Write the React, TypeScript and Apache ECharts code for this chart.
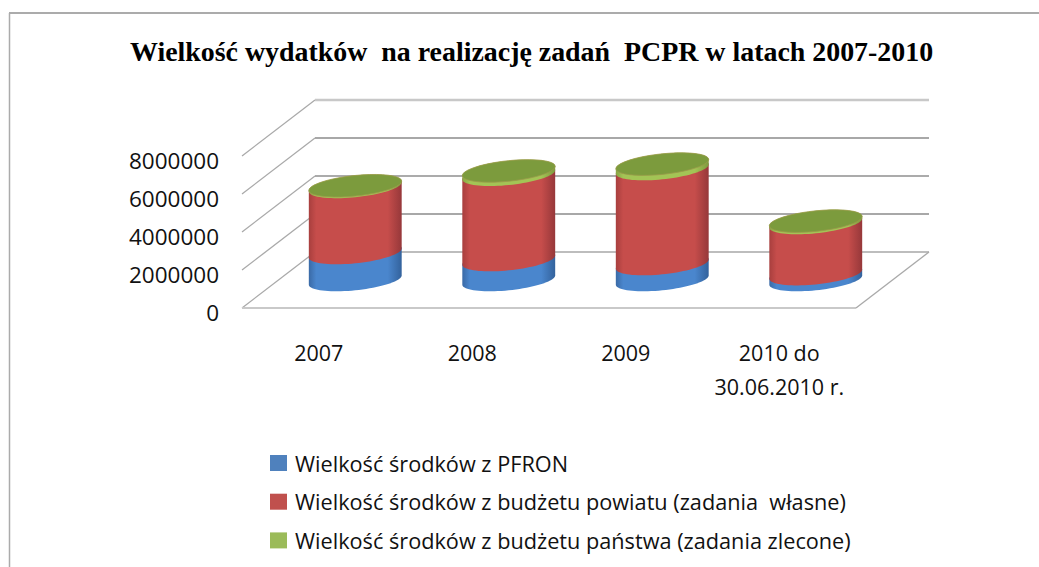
import React, { useEffect, useRef } from "react";
import * as echarts from "echarts";

const titleText = "Wielkość wydatków  na realizację zadań  PCPR w latach 2007-2010";
const categories = ["2007", "2008", "2009", "2010 do\n30.06.2010 r."];
const seriesNames = [
  "Wielkość środków z PFRON",
  "Wielkość środków z budżetu powiatu (zadania  własne)",
  "Wielkość środków z budżetu państwa (zadania zlecone)",
];
const pfron = [1420000, 1050000, 840000, 310000];
const powiat = [3480000, 4490000, 5000000, 2690000];
const panstwo = [60000, 200000, 260000, 100000];
const yTicks = [0, 2000000, 4000000, 6000000, 8000000];
const allValues = [pfron, powiat, panstwo];

const legendColors = ["#4F81BD", "#C0504D", "#9BBB59"];
const sideStops = [
  ["#3a6aa6", "#4a86cd", "#33629c"],
  ["#a83f3e", "#c64d4b", "#96383a"],
  ["#86a544", "#a3c455", "#7d9a3e"],
];
const capColor = "#7c9b3d";
const backLineColors = ["#bdbdbd", "#a8a8a8", "#8f8f8f", "#a8a8a8", "#c8c8c8"];
const backLineWidths = [2, 1.8, 1.5, 1.8, 2.4];

// 3D look: floor depth on screen, and the sheared ellipse of a cylinder's section
const DEPTH_X = 73;
const DEPTH_Y = -56;
const BAR_RATIO = 0.605;
const SHEAR = 0.1;
const MINOR = 10.3;

function arc(cx: number, cy: number, a: number, t0: number, t1: number) {
  const pts: number[][] = [];
  const n = 40;
  for (let i = 0; i <= n; i++) {
    const t = t0 + ((t1 - t0) * i) / n;
    const x = a * Math.cos(t);
    pts.push([cx + x, cy - SHEAR * x + MINOR * Math.sin(t)]);
  }
  return pts;
}

function stacked(index: number) {
  return categories.map((_, i) => {
    let start = 0;
    for (let s = 0; s < index; s++) start += allValues[s][i];
    return [i, start, start + allValues[index][i]];
  });
}

function cylinderSeries(index: number) {
  const isTop = index === allValues.length - 1;
  return {
    type: "custom",
    name: seriesNames[index],
    itemStyle: { color: legendColors[index] },
    encode: { x: 0, y: [1, 2] },
    data: stacked(index),
    z: 3 + index,
    renderItem: (_: any, api: any) => {
      const band = api.size([1, 0])[0];
      const a = (band * BAR_RATIO) / 2;
      const low = api.coord([api.value(0), api.value(1)]);
      const high = api.coord([api.value(0), api.value(2)]);
      const cx = low[0] + DEPTH_X / 2;
      const yLow = low[1] + DEPTH_Y / 2;
      const yHigh = high[1] + DEPTH_Y / 2;
      const stops = sideStops[index];
      const side = arc(cx, yLow, a, 0, Math.PI).concat(arc(cx, yHigh, a, Math.PI, 2 * Math.PI));
      const children: any[] = [
        {
          type: "polygon",
          shape: { points: side },
          style: {
            fill: new echarts.graphic.LinearGradient(0, 0, 1, 0, [
              { offset: 0, color: stops[0] },
              { offset: 0.08, color: stops[1] },
              { offset: 0.85, color: stops[1] },
              { offset: 1, color: stops[2] },
            ]),
          },
        },
      ];
      if (isTop) {
        children.push({
          type: "polygon",
          shape: { points: arc(cx, yHigh, a, 0, 2 * Math.PI) },
          style: { fill: capColor, stroke: "#9a9a4a", lineWidth: 0.8 },
        });
      }
      return { type: "group", children };
    },
  };
}

const wallSeries = {
  type: "custom",
  silent: true,
  z: 1,
  encode: { y: 0 },
  data: yTicks.map((v) => [v]),
  renderItem: (params: any, api: any) => {
    const band = api.size([1, 0])[0];
    const p = api.coord([0, api.value(0)]);
    const x0 = p[0] - band / 2;
    const x1 = x0 + band * categories.length;
    const y = p[1];
    const i = params.dataIndex;
    const children: any[] = [
      {
        type: "line",
        shape: { x1: x0, y1: y, x2: x0 + DEPTH_X, y2: y + DEPTH_Y },
        style: { stroke: "#a9a9a9", lineWidth: 1.3 },
      },
      {
        type: "line",
        shape: { x1: x0 + DEPTH_X, y1: y + DEPTH_Y, x2: x1 + DEPTH_X, y2: y + DEPTH_Y },
        style: { stroke: backLineColors[i], lineWidth: backLineWidths[i] },
      },
    ];
    if (i === 0) {
      children.push(
        {
          type: "line",
          shape: { x1: x0, y1: y, x2: x1, y2: y },
          style: { stroke: "#c9c9c9", lineWidth: 2 },
        },
        {
          type: "line",
          shape: { x1: x1, y1: y, x2: x1 + DEPTH_X, y2: y + DEPTH_Y },
          style: { stroke: "#a9a9a9", lineWidth: 1.3 },
        },
      );
    }
    return { type: "group", children };
  },
};

export default function App() {
  const ref = useRef<HTMLDivElement>(null);
  useEffect(() => {
    const chart = echarts.init(ref.current!, null, { renderer: "svg" });
    chart.setOption({
      animation: false,
      backgroundColor: "#ffffff",
      title: {
        text: titleText,
        left: 130,
        top: 37,
        padding: 0,
        textStyle: {
          fontFamily: "Liberation Serif",
          fontWeight: "bold",
          fontSize: 27.9,
          color: "#000000",
        },
      },
      grid: { left: 242, right: 183, top: 156, bottom: 259 },
      xAxis: {
        type: "category",
        data: categories,
        axisLine: { show: false },
        axisTick: { show: false },
        splitLine: { show: false },
        axisLabel: {
          margin: 27,
          color: "#111111",
          fontFamily: "Open Sans",
          fontSize: 21.5,
          lineHeight: 34,
          interval: 0,
        },
      },
      yAxis: {
        type: "value",
        min: 0,
        max: 8000000,
        interval: 2000000,
        axisLine: { show: false },
        axisTick: { show: false },
        splitLine: { show: false },
        axisLabel: {
          margin: 23,
          color: "#111111",
          fontFamily: "Open Sans",
          fontSize: 22.5,
          verticalAlign: "top",
          lineHeight: 8,
          formatter: (v: number) => String(v),
        },
      },
      legend: {
        orient: "vertical",
        left: 270,
        top: 452,
        padding: 0,
        itemWidth: 17,
        itemHeight: 16,
        itemGap: 16.7,
        icon: "rect",
        selectedMode: false,
        data: seriesNames,
        textStyle: { fontFamily: "Open Sans", fontSize: 21.7, color: "#111111", padding: [0, 0, 0, 3] },
      },
      graphic: [
        { type: "line", shape: { x1: 9, y1: 13, x2: 1039, y2: 13 }, style: { stroke: "#ababab", lineWidth: 2 } },
        { type: "line", shape: { x1: 9.5, y1: 13, x2: 9.5, y2: 567 }, style: { stroke: "#ababab", lineWidth: 1.5 } },
      ],
      series: [wallSeries, cylinderSeries(0), cylinderSeries(1), cylinderSeries(2)],
    });
    return () => chart.dispose();
  }, []);
  return (
    <div
      ref={ref}
      style={{ position: "fixed", left: 0, top: 0, width: 1039, height: 567 }}
    />
  );
}
